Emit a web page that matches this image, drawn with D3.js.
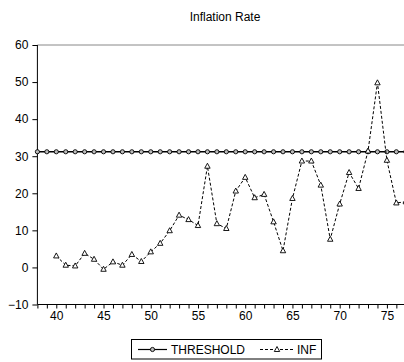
<!DOCTYPE html>
<html>
<head>
<meta charset="utf-8">
<script src="https://cdn.jsdelivr.net/npm/d3@7"></script>
<style>
  html, body { margin: 0; padding: 0; background: #fff; }
  svg { display: block; font-family: "Liberation Sans", Arial, sans-serif; }
</style>
</head>
<body>
<svg id="chart" width="404" height="362"></svg>
<script>
// Years covered by the series
const years = d3.range(38, 78);
// Estimated threshold level (constant over the sample)
const thresholdValue = 31.2;
const thresholdValues = years.map(() => thresholdValue);
// Inflation rate observations, 1940-1977
const infYears = d3.range(40, 78);
const infValues = [
  3.1, 0.6, 0.4, 3.8, 2.2, -0.5, 1.5, 0.6, 3.5, 1.6,
  4.2, 6.5, 9.9, 14.1, 12.9, 11.3, 27.3, 11.8, 10.5, 20.6,
  24.3, 18.8, 19.7, 12.3, 4.5, 18.6, 28.7, 28.7, 22.2, 7.6,
  17.1, 25.6, 21.3, 31.4, 49.8, 28.9, 17.4, 17.7
];
const yTicks = [-10, 0, 10, 20, 30, 40, 50, 60];
const xLabelTicks = [40, 45, 50, 55, 60, 65, 70, 75];
const seriesNames = ["THRESHOLD", "INF"];

const svg = d3.select("#chart");

const x = d3.scaleLinear().domain([38, 77]).range([37.4, 405.8]);
const y = d3.scaleLinear().domain([-10, 60]).range([304.5, 45]);

// Title
svg.append("text")
  .attr("x", 225).attr("y", 21)
  .attr("text-anchor", "middle")
  .attr("font-size", 12)
  .attr("fill", "#000")
  .text("Inflation Rate");

// Frame: top and right edges in grey
svg.append("path")
  .attr("d", `M${x.range()[0]},${y(60)}H${x.range()[1]}V${y(-10)}`)
  .attr("fill", "none")
  .attr("stroke", "#888")
  .attr("stroke-width", 1);

// Y axis
const yAxis = d3.axisLeft(y).tickValues(yTicks).tickSize(5).tickPadding(4).tickFormat(d3.format("d"));
const gy = svg.append("g").attr("transform", `translate(${x.range()[0]},0)`).call(yAxis);
gy.select(".domain").attr("d", `M0,${y(60)}V${y(-10)}`).attr("stroke", "#000");
gy.selectAll("text").attr("font-size", 12).attr("font-family", "Liberation Sans, Arial, sans-serif").attr("fill", "#000");
gy.selectAll("line").attr("stroke", "#000");

// X axis: a tick for every year, labels every five years
const xAxis = d3.axisBottom(x).tickValues(years).tickSize(4).tickPadding(3)
  .tickFormat(d => xLabelTicks.includes(d) ? String(d) : "");
const gx = svg.append("g").attr("transform", `translate(0,${y(-10)})`).call(xAxis);
gx.select(".domain").attr("d", `M${x.range()[0]},0H${x.range()[1]}`).attr("stroke", "#000");
gx.selectAll("text").attr("font-size", 12).attr("font-family", "Liberation Sans, Arial, sans-serif").attr("fill", "#000");
gx.selectAll("line").attr("stroke", "#000");

// Threshold line with circle markers
const thrData = years.map((yr, i) => ({ yr, v: thresholdValues[i] }));
svg.append("path")
  .datum(thrData)
  .attr("fill", "none")
  .attr("stroke", "#000")
  .attr("stroke-width", 1.6)
  .attr("d", d3.line().x(d => x(d.yr)).y(d => y(d.v)));
svg.append("g").selectAll("circle")
  .data(thrData).join("circle")
  .attr("cx", d => x(d.yr)).attr("cy", d => y(d.v))
  .attr("r", 2.1)
  .attr("fill", "#bbb")
  .attr("stroke", "#000")
  .attr("stroke-width", 0.9);

// Inflation line, dashed, with triangle markers
const infData = infYears.map((yr, i) => ({ yr, v: infValues[i] }));
svg.append("path")
  .datum(infData)
  .attr("fill", "none")
  .attr("stroke", "#000")
  .attr("stroke-width", 1)
  .attr("stroke-dasharray", "3,2")
  .attr("d", d3.line().x(d => x(d.yr)).y(d => y(d.v)));
const tri = "M0,-3L2.7,2L-2.7,2Z";
svg.append("g").selectAll("path")
  .data(infData).join("path")
  .attr("transform", d => `translate(${x(d.yr)},${y(d.v)})`)
  .attr("d", tri)
  .attr("fill", "#fff")
  .attr("stroke", "#000")
  .attr("stroke-width", 0.9);

// Legend
const lg = svg.append("g");
lg.append("rect")
  .attr("x", 131.5).attr("y", 339.5).attr("width", 190).attr("height", 19.5)
  .attr("fill", "#fff").attr("stroke", "#000").attr("stroke-width", 1);
// THRESHOLD entry
lg.append("line").attr("x1", 138).attr("x2", 167).attr("y1", 349.5).attr("y2", 349.5)
  .attr("stroke", "#000").attr("stroke-width", 1.2);
lg.append("circle").attr("cx", 152.5).attr("cy", 349.5).attr("r", 2.1)
  .attr("fill", "#bbb").attr("stroke", "#000").attr("stroke-width", 0.9);
lg.append("text").attr("x", 171).attr("y", 353.7).attr("font-size", 12).attr("fill", "#000").text(seriesNames[0]);
// INF entry
lg.append("line").attr("x1", 260).attr("x2", 294).attr("y1", 349.5).attr("y2", 349.5)
  .attr("stroke", "#000").attr("stroke-width", 1).attr("stroke-dasharray", "3,2");
lg.append("path").attr("transform", "translate(277,349.5)").attr("d", tri)
  .attr("fill", "#fff").attr("stroke", "#000").attr("stroke-width", 0.9);
lg.append("text").attr("x", 297).attr("y", 353.7).attr("font-size", 12).attr("fill", "#000").text(seriesNames[1]);
</script>
</body>
</html>
